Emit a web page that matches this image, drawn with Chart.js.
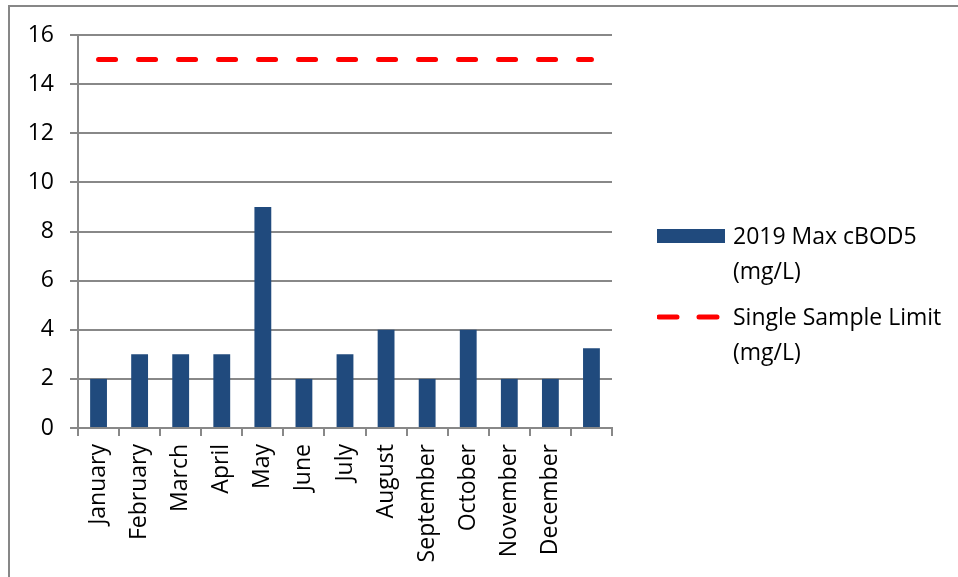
<!DOCTYPE html>
<html>
<head>
<meta charset="utf-8">
<script src="https://cdn.jsdelivr.net/npm/chart.js@4"></script>
<style>
  html, body { margin: 0; padding: 0; background: #fff; }
  #wrap { position: relative; width: 958px; height: 577px; overflow: hidden; }
  #frame { position: absolute; left: 8px; top: 5px; width: 1000px; height: 700px;
           border-left: 2px solid #878787; border-top: 2px solid #878787; }
  #chart { position: absolute; left: 0; top: 0; }
  #legend { position: absolute; left: 657px; top: 218px; font-family: 'Open Sans', sans-serif;
            font-size: 23px; color: #000; }
  .item { display: flex; align-items: flex-start; margin-bottom: 11px; }
  .swatch { width: 68px; height: 36px; display: flex; align-items: center; margin-right: 8px; flex: none; }
  .txt { max-width: 225px; line-height: 35px; }
</style>
</head>
<body>
<div id="wrap">
  <div id="frame"></div>
  <canvas id="chart" width="958" height="577"></canvas>
  <div id="legend"></div>
</div>
<script>
// --- chart data ---
const months = ['January', 'February', 'March', 'April', 'May', 'June', 'July',
                'August', 'September', 'October', 'November', 'December', ''];
const maxCbod5 = [2, 3, 3, 3, 9, 2, 3, 4, 2, 4, 2, 2, 3.25];
const sampleLimit = [15, 15, 15, 15, 15, 15, 15, 15, 15, 15, 15, 15, 15];
const yTicks = [0, 2, 4, 6, 8, 10, 12, 14, 16];

const barLabel = '2019 Max cBOD5 (mg/L)';
const limitLabel = 'Single Sample Limit (mg/L)';
const barColor = '#204A7D';
const limitColor = '#FF0000';
const gridColor = '#888888';

Chart.defaults.font.family = "'Open Sans', sans-serif";
Chart.defaults.font.size = 23;
Chart.defaults.color = '#000';

const ctx = document.getElementById('chart').getContext('2d');
const chart = new Chart(ctx, {
  type: 'bar',
  data: {
    labels: months,
    datasets: [
      { type: 'line', label: limitLabel, data: sampleLimit, borderColor: limitColor,
        borderWidth: 5, borderDash: [17, 23], borderCapStyle: 'round',
        pointRadius: 0, fill: false, order: 0 },
      { type: 'bar', label: barLabel, data: maxCbod5, backgroundColor: barColor,
        categoryPercentage: 1, barPercentage: 0.41, order: 1 }
    ]
  },
  options: {
    responsive: false,
    animation: false,
    layout: { padding: { left: 0, right: 346, top: 35, bottom: 0 } },
    plugins: { legend: { display: false }, tooltip: { enabled: false } },
    scales: {
      x: {
        offset: true,
        grid: { drawOnChartArea: false, offset: true, tickLength: 8, color: gridColor, lineWidth: 2 },
        border: { color: gridColor, width: 2 },
        ticks: { autoSkip: false, minRotation: 90, maxRotation: 90, padding: 8 },
        afterFit: s => { s.height = 149; }
      },
      y: {
        min: 0, max: 16,
        afterBuildTicks: s => { s.ticks = yTicks.map(v => ({ value: v })); },
        grid: { tickLength: 8, color: gridColor, lineWidth: 2 },
        border: { color: gridColor, width: 2 },
        ticks: { padding: 16 },
        afterFit: s => { s.width = 78; }
      }
    }
  }
});

// --- legend (wrapping text, like the original) ---
const legend = document.getElementById('legend');
[chart.data.datasets[1], chart.data.datasets[0]].forEach(ds => {
  const item = document.createElement('div');
  item.className = 'item';
  const sw = document.createElement('div');
  sw.className = 'swatch';
  if (ds.type === 'bar') {
    sw.innerHTML = '<div style="width:68px;height:14px;background:' + ds.backgroundColor + '"></div>';
  } else {
    sw.innerHTML = '<svg width="68" height="10"><line x1="2" y1="5" x2="66" y2="5" stroke="' +
      ds.borderColor + '" stroke-width="5" stroke-linecap="round" stroke-dasharray="18 22"/></svg>';
  }
  const t = document.createElement('div');
  t.className = 'txt';
  t.textContent = ds.label;
  item.appendChild(sw);
  item.appendChild(t);
  legend.appendChild(item);
});
</script>
</body>
</html>
